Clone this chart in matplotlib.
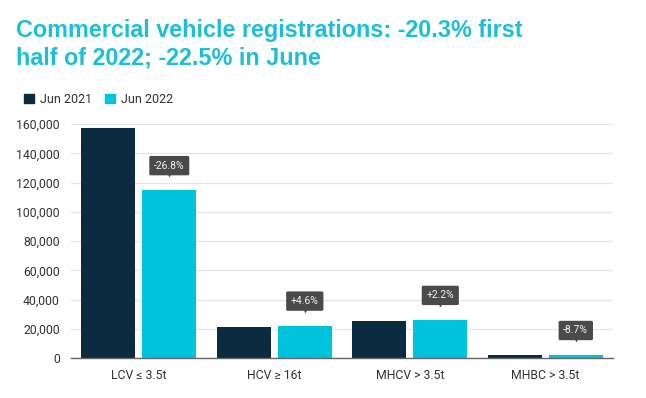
import numpy as np
import matplotlib.pyplot as plt
from matplotlib.transforms import offset_copy
from matplotlib.ticker import FuncFormatter
from matplotlib.patches import Patch

categories = ['LCV ≤ 3.5t', 'HCV ≥ 16t', 'MHCV > 3.5t', 'MHBC > 3.5t']
jun_2021 = [157300, 21200, 25500, 2300]
jun_2022 = [114900, 22200, 26100, 2100]
changes = ['-26.8%', '+4.6%', '+2.2%', '-8.7%']
series_labels = ['Jun 2021', 'Jun 2022']

navy = '#0c2b40'
cyan = '#00c3dc'
title_col = '#1cbfd6'

plt.rcParams['font.family'] = ['Roboto', 'DejaVu Sans']

fig = plt.figure(figsize=(6.46, 3.98), dpi=100)
ax = fig.add_axes([0.110, 0.1005, 0.839, 0.5875])

x = np.arange(len(categories))
w = 0.4
off = 0.225
ax.bar(x - off, jun_2021, w, color=navy, zorder=3)
ax.bar(x + off, jun_2022, w, color=cyan, zorder=3)

ax.set_xlim(-0.5, 3.5)
ax.set_ylim(0, 160000)
ax.set_yticks(np.arange(0, 160001, 20000))
ax.yaxis.set_major_formatter(FuncFormatter(lambda v, p: f'{int(v):,}'))
ax.grid(axis='y', color='#e6e6e6', lw=0.9, zorder=0)
ax.set_xticks(x)
ax.set_xticklabels(categories)
ax.tick_params(axis='both', length=0, labelsize=8.8, colors='#333333')
ax.tick_params(axis='x', pad=8)
ax.tick_params(axis='y', pad=8)
for s in ['top', 'right', 'left']:
    ax.spines[s].set_visible(False)
ax.spines['bottom'].set_color('#666666')
ax.spines['bottom'].set_linewidth(1.0)
ax.spines['bottom'].set_zorder(4)

# change labels above the 2022 bars
for xi, v, txt in zip(x + off, jun_2022, changes):
    ax.annotate(txt, xy=(xi, v), xytext=(0, 14), textcoords='offset points',
                ha='center', va='bottom', fontsize=7.5, color='#f2f2f2', zorder=6,
                bbox=dict(boxstyle='round,pad=0.45,rounding_size=0.15',
                          fc='#4a4a4a', ec='none'))
    tr = offset_copy(ax.transData, fig=fig, x=0, y=11.5, units='points')
    ax.plot([xi], [v], marker='v', ms=5, color='#4a4a4a', mec='none',
            transform=tr, zorder=6, clip_on=False)

fig.text(0.024, 0.952, 'Commercial vehicle registrations: -20.3% first\nhalf of 2022; -22.5% in June',
         ha='left', va='top', fontsize=16.8, fontweight='bold', color=title_col,
         family=['Liberation Sans', 'DejaVu Sans'], linespacing=1.27)

handles = [Patch(color=navy), Patch(color=cyan)]
fig.legend(handles, series_labels, loc='upper left', bbox_to_anchor=(0.02, 0.795),
           ncol=2, frameon=False, fontsize=9, handlelength=0.8, handleheight=0.8,
           handletextpad=0.5, columnspacing=1.0, labelcolor='#333333')

fig.savefig('out.png', dpi=100)
